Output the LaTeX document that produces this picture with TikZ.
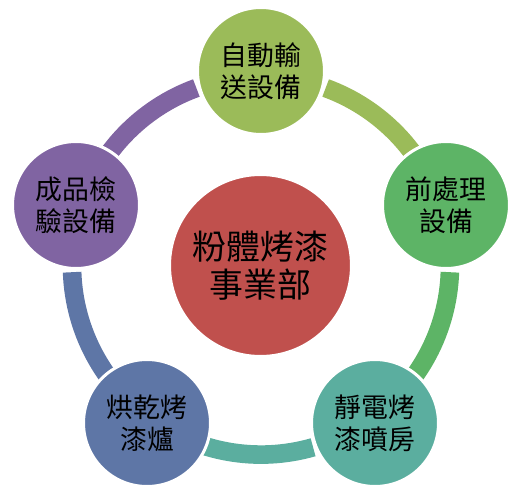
\documentclass[tikz,border=0pt]{standalone}
\usepackage{fontspec}
\newfontfamily\cjk{Noto Sans CJK TC}
\definecolor{hubred}{HTML}{C0504D}
\definecolor{convgreen}{HTML}{9BBB59}
\definecolor{pregreen}{HTML}{5DB466}
\definecolor{sprayteal}{HTML}{5BAE9F}
\definecolor{ovenblue}{HTML}{5E76A6}
\definecolor{qcpurple}{HTML}{8064A2}
\begin{document}
\begin{tikzpicture}[x=0.02cm, y=0.02cm, every node/.style={circle, draw=white, line width=0.06cm, minimum size=2.54cm, inner sep=0pt, align=center, font=\cjk\fontsize{15.3}{18.1}\selectfont}, ring/.style={line width=0.372cm}]
        \useasboundingbox (0,0) rectangle (520,501);
        \coordinate (c) at (261,235.4);
        % ring pieces, behind the stations
        \draw[ring, convgreen] ([shift={(70:189)}]c) arc[start angle=70, end angle=18, radius=189];
        \draw[ring, pregreen] ([shift={(-2:189)}]c) arc[start angle=-2, end angle=-54, radius=189];
        \draw[ring, sprayteal] ([shift={(-74:189)}]c) arc[start angle=-74, end angle=-126, radius=189];
        \draw[ring, ovenblue] ([shift={(234:189)}]c) arc[start angle=234, end angle=182, radius=189];
        \draw[ring, qcpurple] ([shift={(162:189)}]c) arc[start angle=162, end angle=110, radius=189];
        \node[fill=hubred, minimum size=3.64cm, font=\cjk\fontsize{19.3}{22}\selectfont] (hub) at (260.5,235.5) {粉體烤漆\\事業部};
        \node[fill=convgreen] (conv) at (261,430) {自動輸\\送設備};
        \node[fill=pregreen] (pre) at (446,296) {前處理\\設備};
        \node[fill=sprayteal] (spray) at (375,78) {靜電烤\\漆噴房};
        \node[fill=ovenblue] (oven) at (147,78) {烘乾烤\\漆爐};
        \node[fill=qcpurple] (qc) at (76,296) {成品檢\\驗設備};
    \end{tikzpicture}
\end{document}
